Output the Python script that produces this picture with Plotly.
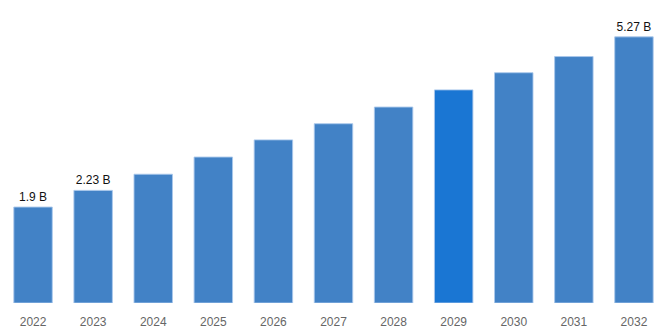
import plotly.graph_objects as go

# Market size by year, in billions
years = ["2022", "2023", "2024", "2025", "2026", "2027", "2028", "2029", "2030", "2031", "2032"]
values = [1.9, 2.23, 2.55, 2.89, 3.23, 3.55, 3.88, 4.22, 4.56, 4.88, 5.27]
labelled_years = ["2022", "2023", "2032"]
highlight_year = "2029"

base_color = "#4282C6"
highlight_color = "#1A76D3"

colors = [highlight_color if y == highlight_year else base_color for y in years]
texts = [f"{v:g} B" if y in labelled_years else "" for y, v in zip(years, values)]

fig = go.Figure(
    go.Bar(
        x=years,
        y=values,
        marker=dict(color=colors, line=dict(color="rgba(170,200,235,0.9)", width=1)),
        text=texts,
        textposition="outside",
        textfont=dict(family="Liberation Sans, Arial", size=12, color="#111111"),
        cliponaxis=False,
        hoverinfo="skip",
    )
)

fig.update_layout(
    width=668,
    height=334,
    margin=dict(l=3, r=4, t=0, b=31),
    bargap=0.36,
    plot_bgcolor="white",
    paper_bgcolor="white",
    showlegend=False,
    xaxis=dict(
        type="category",
        showgrid=False,
        showline=False,
        ticks="",
        ticklabelstandoff=10,
        tickfont=dict(family="Liberation Sans, Arial", size=12, color="#666666"),
    ),
    yaxis=dict(range=[0, 6], visible=False),
)

fig.write_html("out.html")
